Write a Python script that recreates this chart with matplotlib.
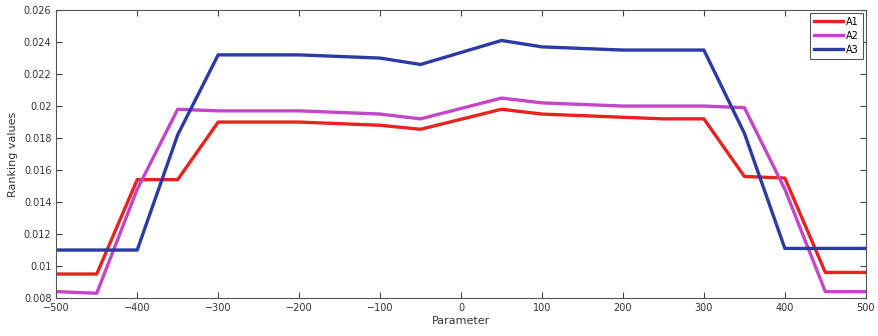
import matplotlib
matplotlib.use("Agg")
import matplotlib.pyplot as plt

# Parameter sweep and ranking values for the three alternatives
param = [-500, -450, -400, -350, -300, -250, -200, -150, -100, -50,
         50, 100, 150, 200, 250, 300, 350, 400, 450, 500]

a1 = [0.0095, 0.0095, 0.0154, 0.0154, 0.0190, 0.0190, 0.0190, 0.0189, 0.0188, 0.01855,
      0.0198, 0.0195, 0.0194, 0.0193, 0.0192, 0.0192, 0.0156, 0.0155, 0.0096, 0.0096]
a2 = [0.0084, 0.0083, 0.0148, 0.0198, 0.0197, 0.0197, 0.0197, 0.0196, 0.0195, 0.0192,
      0.0205, 0.0202, 0.0201, 0.0200, 0.0200, 0.0200, 0.0199, 0.0148, 0.0084, 0.0084]
a3 = [0.0110, 0.0110, 0.0110, 0.0182, 0.0232, 0.0232, 0.0232, 0.0231, 0.0230, 0.0226,
      0.0241, 0.0237, 0.0236, 0.0235, 0.0235, 0.0235, 0.0183, 0.0111, 0.0111, 0.0111]

SERIES = [("A1", a1, "#e8231f"), ("A2", a2, "#c445c8"), ("A3", a3, "#2b3aa6")]

fig = plt.figure(figsize=(8.79, 3.36), dpi=100)
ax = fig.add_axes([0.064, 0.113, 0.921, 0.857])

for name, vals, color in SERIES:
    ax.plot(param, vals, color=color, lw=2.4, label=name)

ax.set_xlim(-500, 500)
ax.set_ylim(0.008, 0.026)
ax.set_xticks(range(-500, 501, 100))
ax.set_yticks([0.008, 0.01, 0.012, 0.014, 0.016, 0.018, 0.02, 0.022, 0.024, 0.026])
ax.set_yticklabels(["0.008", "0.01", "0.012", "0.014", "0.016", "0.018",
                    "0.02", "0.022", "0.024", "0.026"])
ax.tick_params(direction="in", top=True, right=True, labelsize=7, length=4,
               color="#444444", labelcolor="#333333")
for sp in ax.spines.values():
    sp.set_color("#555555")
    sp.set_linewidth(0.8)

ax.set_xlabel("Parameter", fontsize=8, color="#333333", labelpad=2)
ax.set_ylabel("Ranking values", fontsize=8, color="#333333", labelpad=4)

leg = ax.legend(loc="upper right", fontsize=7, handlelength=3.0, borderaxespad=0.3,
                labelspacing=0.4, handletextpad=0.3, fancybox=False,
                edgecolor="#555555", framealpha=1)
leg.get_frame().set_linewidth(0.8)

fig.savefig("out.png", dpi=100)
